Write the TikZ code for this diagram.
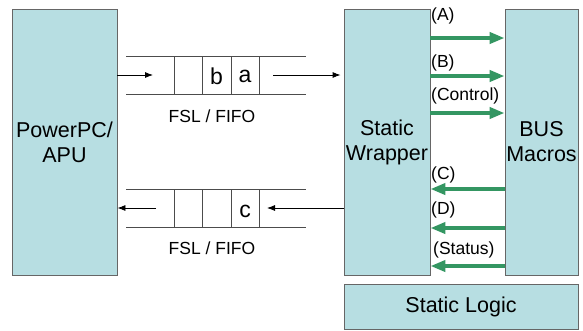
\documentclass[tikz,border=0pt]{standalone}
\usepackage{fontspec}
\setmainfont{Liberation Sans}
\usetikzlibrary{positioning,calc,arrows.meta}
\definecolor{boxfill}{RGB}{183,222,226}
\definecolor{busgreen}{RGB}{52,150,98}
\tikzset{blk/.style={draw=black!60,fill=boxfill,line width=0.8pt,inner sep=0pt,align=center,font=\fontsize{21.5}{25}\selectfont}}
\tikzset{fifoline/.style={draw=black!70,line width=0.8pt}}
\tikzset{dataarr/.style={-{Latex[length=8pt,width=6pt]},line width=0.8pt}}
\tikzset{busarr/.style={-{Triangle[length=15pt,width=11pt]},line width=4pt,draw=busgreen}}
\tikzset{siglab/.style={anchor=west,inner sep=0pt,font=\fontsize{17.5}{20}\selectfont}}
\tikzset{fifolab/.style={inner sep=0pt,font=\fontsize{17.5}{20}\selectfont}}
\tikzset{datum/.style={inner sep=0pt,font=\fontsize{23}{25}\selectfont}}

\begin{document}
\begin{tikzpicture}[x=1pt,y=-1pt]
	\useasboundingbox (0,0) rectangle (583,330);
	% blocks
	\node[blk,minimum width=105pt,minimum height=266pt] (ppc) at (64.5,142) {PowerPC/\\APU};
	\node[blk,minimum width=86pt,minimum height=266pt] (wrap) at (387,142) {Static\\Wrapper};
	\node[blk,minimum width=73pt,minimum height=266pt] (bus) at (541.5,142) {BUS\\Macros};
	\node[blk,minimum width=234pt,minimum height=45pt] (logic) at (461,306.5) {Static Logic};

	% upper fifo
	\draw[fifoline] (126,56) -- (306,56) (126,94) -- (306,94);
	\foreach \x in {174,202,231,259} \draw[fifoline] (\x,56) -- (\x,94);
	\node[datum] (db) at (216.5,76) {b};
	\node[datum] (da) at (245,76) {a};
	\node[fifolab] (fifoup) at (212,116) {FSL / FIFO};
	\coordinate (upin) at (153,75);
	\coordinate (upout) at (273,75);
	\draw[dataarr] (ppc.east |- upin) -- (upin);
	\draw[dataarr,shorten >=3pt] (upout) -- (wrap.west |- upout);

	% lower fifo
	\draw[fifoline] (126,189) -- (306,189) (126,227) -- (306,227);
	\foreach \x in {174,202,231,259} \draw[fifoline] (\x,189) -- (\x,227);
	\node[datum] (dc) at (245,211) {c};
	\node[fifolab] (fifodn) at (212,248) {FSL / FIFO};
	\coordinate (dnin) at (267,208);
	\coordinate (dnout) at (156,208);
	\draw[dataarr] (wrap.west |- dnin) -- (dnin);
	\draw[dataarr] (dnout) -- (ppc.east |- dnout);

	% bus macro signals
	\foreach \y/\t in {38/A,76/B,113/Control}
		\draw[busarr] (wrap.east |- 0,\y) -- (bus.west |- 0,\y);
	\foreach \y/\t in {189/C,228/D,266/Status}
		\draw[busarr] (bus.west |- 0,\y) -- (wrap.east |- 0,\y);
	\node[siglab] (sa) at (431,16) {(A)};
	\node[siglab] (sb) at (431,63) {(B)};
	\node[siglab] (sctl) at (431,96) {(Control)};
	\node[siglab] (sc) at (431,175) {(C)};
	\node[siglab] (sd) at (431,210) {(D)};
	\node[siglab] (sst) at (433,250) {(Status)};
\end{tikzpicture}
\end{document}
